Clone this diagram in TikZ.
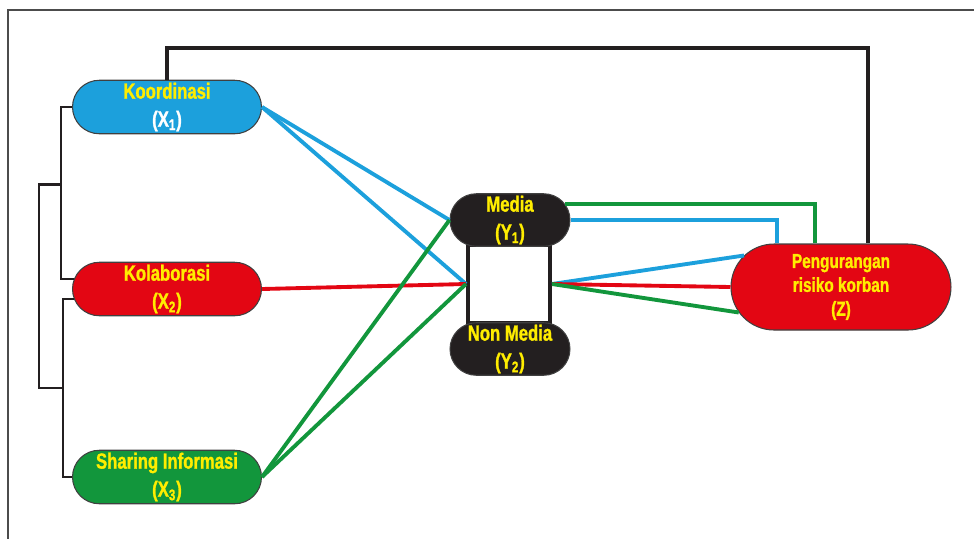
\documentclass[tikz,border=0pt]{standalone}
\usepackage{fontspec}
\setmainfont{Liberation Sans}[FakeStretch=0.76,BoldFeatures={FakeBold=1.2}]
\usepackage{tikz}
\usetikzlibrary{shapes.misc,calc}
\definecolor{kblue}{RGB}{28,160,220}
\definecolor{kred}{RGB}{227,6,19}
\definecolor{kgreen}{RGB}{18,150,60}
\definecolor{kyellow}{RGB}{255,237,0}
\definecolor{kdark}{RGB}{35,31,32}

\begin{document}
\begin{tikzpicture}[x=0.02cm,y=-0.02cm,
	pill/.style={rounded rectangle,draw=black!75,line width=0.6pt,inner sep=0pt,text=kyellow,align=center,font=\bfseries\fontsize{12.5}{16}\selectfont},
	varx/.style={pill,minimum width=3.78cm,minimum height=1.07cm},
	vary/.style={pill,fill=kdark,minimum width=2.4cm,minimum height=1.05cm},
	link/.style={line width=2.2pt},
	frame/.style={line width=2.3pt,kdark}]
			\useasboundingbox (0,0) rectangle (974,539);
			\draw[black!70,line width=0.8pt] (974,10) -- (8,10) -- (8,539);
			\node[varx,fill=kblue](x1) at (167,107) {Koordinasi\\{\color{white}(X\textsubscript{1})}};
			\node[varx,fill=kred](x2) at (167,289) {Kolaborasi\\(X\textsubscript{2})};
			\node[varx,fill=kgreen](x3) at (167,477) {Sharing Informasi\\(X\textsubscript{3})};
			\node[frame,draw,fill=white,minimum width=1.64cm,minimum height=1.56cm](box) at (509,284) {};
			\node[vary](y1) at (510,220) {Media\\(Y\textsubscript{1})};
			\node[vary](y2) at (510,349) {Non Media\\(Y\textsubscript{2})};
			\node[pill,fill=kred,minimum width=4.4cm,minimum height=1.72cm,font=\bfseries\fontsize{11.5}{13.6}\selectfont](z) at (841,287) {Pengurangan\\risiko korban\\(Z)};
			\draw[link,kblue] (x1.east) -- (y1.west);
			\draw[link,kblue] (x1.east) -- (box.west);
			\draw[link,kred] (x2.east) -- (box.west);
			\draw[link,kgreen] (x3.east) -- (y1.west);
			\draw[link,kgreen] (x3.east) -- (box.west);
			\draw[link,kgreen] (y1.16) -| ($(z.north)+(-26,0)$);
			\draw[link,kblue] (y1.east) -| ($(z.north)+(-64,0)$);
			\draw[link,kblue] (box.east) -- (z.162);
			\draw[link,kred] (box.east) -- (z.west);
			\draw[link,kgreen] (box.east) -- (z.194);
			\draw[frame] (x1.north) -- ++(0,-32) -| ($(z.north)+(27,0)$);
			\draw[kdark,line width=1.4pt] (x1.west) -- ++(-11,0) coordinate(b1) |- (x2.174);
			\draw[kdark,line width=1.4pt] (x2.186) -- ++(-11,0) coordinate(b2) |- (x3.west);
			\draw[kdark,line width=1.4pt] ($(b1)!0.45!(b1|-x2.174)$) -- ++(-22,0) |- ($(b2)!0.5!(b2|-x3.west)$);
\end{tikzpicture}
\end{document}
